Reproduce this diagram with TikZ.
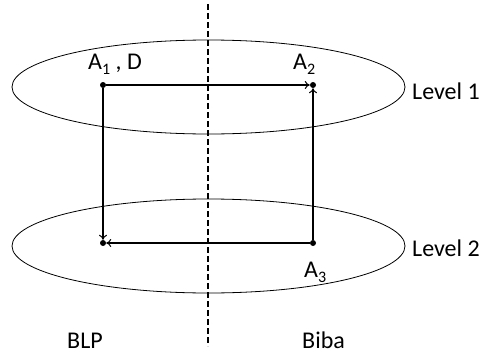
\documentclass[tikz,border=0pt]{standalone}
\usepackage{fontspec}
\setmainfont{Carlito}
\usetikzlibrary{arrows.meta,shapes.geometric}
\newcommand\lowsub[1]{\raisebox{-5pt}{\fontsize{16}{16}\selectfont #1}}
\begin{document}
\begin{tikzpicture}[x=1pt,y=-1pt,
  lvl/.style={draw,ellipse,line width=0.8pt,inner sep=0pt,minimum width=393pt,minimum height=94pt},
  dot/.style={circle,fill,inner sep=0pt,minimum size=6pt},
  lbl/.style={anchor=base west,inner sep=0pt,font=\fontsize{24}{28}\selectfont},
  flow/.style={line width=1.3pt,-{To[length=5pt,width=8pt,line width=1pt]}},
  divider/.style={line width=1.5pt,dash pattern=on 6pt off 3pt}]
\useasboundingbox (0,0) rectangle (482,356);
\node[lvl] (e1) at (208.5,87) {};
\node[lvl] (e2) at (208.5,246) {};
\coordinate (dtop) at (208,4);
\coordinate (dbot) at (208,346);
\draw[divider] (dtop) -- (dbot);
\node[dot] (a1) at (103,85) {};
\node[dot] (a2) at (313,85) {};
\node[dot] (b1) at (103,243) {};
\node[dot] (a3) at (313,243) {};
\draw[flow] (a1) -- (a2);
\draw[flow] (a1) -- (b1);
\draw[flow] (a3) -- (b1);
\draw[flow] (a3) -- (a2);
\node[lbl] (t1) at (88,69) {A\lowsub{1} , D};
\node[lbl] (t2) at (293,69) {A\lowsub{2}};
\node[lbl] (t3) at (304,277) {A\lowsub{3}};
\node[lbl] (l1) at (412,99) {Level 1};
\node[lbl] (l2) at (412,256) {Level 2};
\node[lbl] (blp) at (67,348) {BLP};
\node[lbl] (biba) at (302,348) {Biba};
\end{tikzpicture}
\end{document}
